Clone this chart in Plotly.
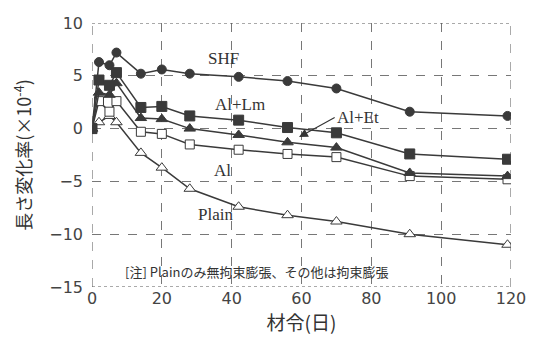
import plotly.graph_objects as go

days_early = [0, 2, 5, 7]
days_late = [14, 20, 28, 42, 56, 70, 91, 119]
days = days_early + days_late

shf = [0, 6.3, 6.0, 7.2, 5.2, 5.6, 5.2, 4.9, 4.5, 3.8, 1.6, 1.2]
al_lm = [0, 4.6, 4.1, 5.3, 2.0, 2.1, 1.2, 0.8, 0.1, -0.4, -2.4, -2.9]
al_et = [0, 3.4, 3.2, 4.3, 1.0, 0.9, 0.0, -0.6, -1.3, -1.8, -4.2, -4.5]
al = [0, 2.6, 1.6, 2.6, -0.3, -0.5, -1.5, -2.0, -2.4, -2.7, -4.5, -4.8]
plain = [0, 0.6, 1.2, 0.6, -2.3, -3.7, -5.7, -7.4, -8.2, -8.8, -10.0, -11.0]

x_ticks = [0, 20, 40, 60, 80, 100, 120]
y_ticks = [-15, -10, -5, 0, 5, 10]

LC = "#3a3a3a"
series = [
    ("Plain", plain, "triangle-up", "white", 10),
    ("Al", al, "square", "white", 9),
    ("Al+Et", al_et, "triangle-up", LC, 10),
    ("SHF", shf, "circle", LC, 9),
    ("Al+Lm", al_lm, "square", LC, 10),
]

fig = go.Figure()
for name, vals, sym, fill, sz in series:
    fig.add_trace(go.Scatter(
        x=days, y=vals, mode="lines+markers", name=name,
        line=dict(color=LC, width=1.5),
        marker=dict(symbol=sym, size=sz, color=fill, line=dict(color=LC, width=1)),
        showlegend=False,
    ))

serif = dict(family="Liberation Serif", size=17, color="#333")
labels = [("SHF", 37.8, 6.6), ("Al+Lm", 42.5, 2.3), ("Al", 37.5, -3.95), ("Plain", 35.5, -8.15)]
for t, x, y in labels:
    fig.add_annotation(x=x, y=y, text=t, showarrow=False, font=serif)

fig.add_annotation(x=59.3, y=-0.8, ax=69.5, ay=1.05, axref="x", ayref="y",
                   text="Al+Et", showarrow=True, arrowhead=2, arrowsize=1.6,
                   arrowwidth=1.1, arrowcolor="#333", font=serif, xanchor="left")

fig.add_annotation(x=9.0, y=-13.5, xanchor="left", text="[注] Plainのみ無拘束膨張、その他は拘束膨張",
                   showarrow=False, font=dict(family="Noto Sans CJK JP", size=13, color="#333"))

# dashed border
for (x0, y0, x1, y1) in [(0, 10, 120, 10), (120, -15, 120, 10), (0, -15, 120, -15), (0, -15, 0, 10)]:
    fig.add_shape(type="line", x0=x0, y0=y0, x1=x1, y1=y1, xref="x", yref="y",
                  line=dict(color="#555", width=1, dash="dot" if y0 == y1 else "dash"))

tickfont = dict(family="DejaVu Sans", size=16, color="#444")
fig.update_xaxes(range=[0, 120], tickvals=x_ticks, showgrid=True, gridcolor="#777",
                 griddash="dash", gridwidth=1, zeroline=False, showline=False,
                 tickfont=tickfont, ticks="",
                 title=dict(text="材令(日)", font=dict(family="Noto Sans CJK JP", size=19, color="#333"), standoff=0))
fig.update_yaxes(range=[-15, 10], tickvals=y_ticks, showgrid=True, gridcolor="#777",
                 griddash="dash", gridwidth=1, zeroline=False, showline=False,
                 tickfont=tickfont, ticks="", ticklabelstandoff=8,
                 ticktext=["−15", "−10", "−5", "0", "5", "10"],
                 title=dict(text="長さ変化率(×10<sup>-4</sup>)", font=dict(family="Noto Sans CJK JP", size=18, color="#333"), standoff=12))

fig.update_layout(width=539, height=337, margin=dict(l=92, r=28, t=23, b=50),
                  plot_bgcolor="white", paper_bgcolor="white")
fig.write_html("out.html")
